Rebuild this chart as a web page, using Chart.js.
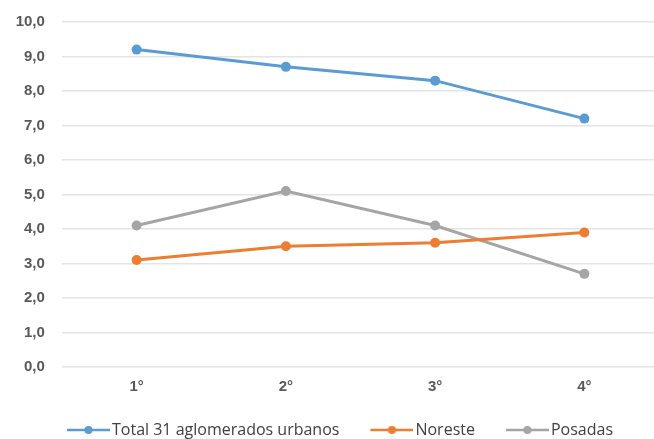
<!DOCTYPE html>
<html>
<head>
<meta charset="utf-8">
<script src="https://cdn.jsdelivr.net/npm/chart.js@4/dist/chart.umd.min.js"></script>
<style>
  html, body { margin: 0; padding: 0; background: #fff; overflow: hidden; }
  #wrap { width: 664px; height: 439px; }
</style>
</head>
<body>
<div id="wrap"><canvas id="chart" width="664" height="439"></canvas></div>
<script>
    // Data
    var categories = ['1°', '2°', '3°', '4°'];
    var seriesNames = ['Total 31 aglomerados urbanos', 'Noreste', 'Posadas'];
    var totalValues = [9.2, 8.7, 8.3, 7.2];
    var noresteValues = [3.1, 3.5, 3.6, 3.9];
    var posadasValues = [4.1, 5.1, 4.1, 2.7];
    var seriesColors = ['#5b9bd5', '#ed7d31', '#a5a5a5'];

    // Legend symbol: short line with a dot, drawn at the right end of the image
    // (the blank part on the left widens the gap between legend items)
    function legendSymbol(color) {
        var c = document.createElement('canvas');
        c.width = 65;
        c.height = 12;
        var g = c.getContext('2d');
        g.strokeStyle = color;
        g.lineWidth = 2.5;
        g.beginPath();
        g.moveTo(22, 6);
        g.lineTo(65, 6);
        g.stroke();
        g.fillStyle = color;
        g.beginPath();
        g.arc(43.5, 6, 4, 0, Math.PI * 2);
        g.fill();
        return c;
    }

    function makeSet(label, values, color) {
        return {
            label: label,
            data: values,
            borderColor: color,
            backgroundColor: color,
            borderWidth: 3,
            pointRadius: 5,
            pointHoverRadius: 5,
            pointBackgroundColor: color,
            pointBorderWidth: 0,
            tension: 0
        };
    }

    var datasets = [
        makeSet(seriesNames[0], totalValues, seriesColors[0]),
        makeSet(seriesNames[1], noresteValues, seriesColors[1]),
        makeSet(seriesNames[2], posadasValues, seriesColors[2])
    ];

    new Chart(document.getElementById('chart'), {
        type: 'line',
        data: { labels: categories, datasets: datasets },
        options: {
            responsive: false,
            animation: false,
            layout: { padding: { top: 5, left: 0, right: 0, bottom: -9 } },
            plugins: {
                tooltip: { enabled: false },
                legend: {
                    position: 'bottom',
                    labels: {
                        usePointStyle: true,
                        pointStyleWidth: 53,
                        color: '#404040',
                        font: { family: 'Open Sans', size: 16 },
                        padding: 15,
                        generateLabels: function(chart) {
                            return chart.data.datasets.map(function(ds, i) {
                                return {
                                    text: ds.label,
                                    fillStyle: ds.borderColor,
                                    strokeStyle: ds.borderColor,
                                    pointStyle: legendSymbol(ds.borderColor),
                                    fontColor: '#404040',
                                    datasetIndex: i
                                };
                            });
                        }
                    }
                }
            },
            scales: {
                x: {
                    offset: true,
                    grid: { display: false, drawTicks: false },
                    border: { display: false },
                    ticks: {
                        color: '#595959',
                        font: { family: 'Liberation Sans', size: 15, weight: 'bold' },
                        padding: 11
                    }
                },
                y: {
                    min: 0,
                    max: 10,
                    afterFit: function(scale) { scale.width = 62; },
                    grid: { color: '#e4e4e4', lineWidth: 1.5, drawTicks: false },
                    border: { display: false },
                    ticks: {
                        stepSize: 1,
                        color: '#595959',
                        font: { family: 'Liberation Sans', size: 15, weight: 'bold' },
                        padding: 13,
                        // trailing space keeps the labels a little further from the grid
                        callback: function(v) { return v.toFixed(1).replace('.', ',') + ' '; }
                    }
                }
            }
        }
    });
</script>
</body>
</html>
